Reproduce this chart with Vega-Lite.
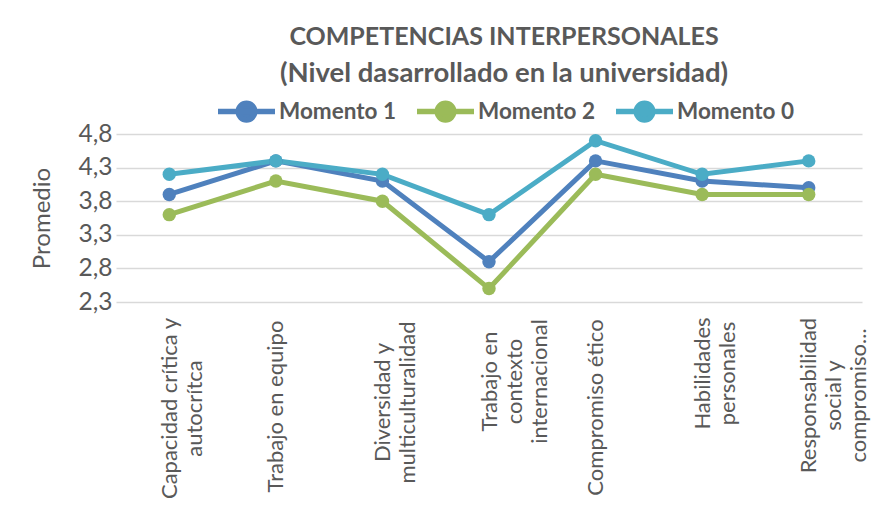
{
  "$schema": "https://vega.github.io/schema/vega-lite/v6.json",
  "width": 746,
  "height": 168,
  "autosize": "none",
  "padding": {"left": 116, "top": 134, "right": 23, "bottom": 206},
  "background": "white",
  "title": {
    "text": "COMPETENCIAS INTERPERSONALES",
    "subtitle": "(Nivel dasarrollado en la universidad)",
    "font": "Lato",
    "fontSize": 25,
    "fontWeight": "bold",
    "color": "#595959",
    "subtitleFont": "Lato",
    "subtitleFontSize": 27.5,
    "subtitleFontWeight": "bold",
    "subtitleColor": "#595959",
    "subtitlePadding": 10,
    "anchor": "middle",
    "dx": 15,
    "offset": -7
  },
  "config": {
    "view": {"stroke": null},
    "font": "Lato"
  },
  "data": {
    "values": [
      {"competencia": "Capacidad crítica y autocrítca", "momento": "Momento 1", "promedio": 3.9},
      {"competencia": "Trabajo en equipo", "momento": "Momento 1", "promedio": 4.4},
      {"competencia": "Diversidad y multiculturalidad", "momento": "Momento 1", "promedio": 4.1},
      {"competencia": "Trabajo en contexto internacional", "momento": "Momento 1", "promedio": 2.9},
      {"competencia": "Compromiso ético", "momento": "Momento 1", "promedio": 4.4},
      {"competencia": "Habilidades personales", "momento": "Momento 1", "promedio": 4.1},
      {"competencia": "Responsabilidad social y compromiso...", "momento": "Momento 1", "promedio": 4.0},
      {"competencia": "Capacidad crítica y autocrítca", "momento": "Momento 2", "promedio": 3.6},
      {"competencia": "Trabajo en equipo", "momento": "Momento 2", "promedio": 4.1},
      {"competencia": "Diversidad y multiculturalidad", "momento": "Momento 2", "promedio": 3.8},
      {"competencia": "Trabajo en contexto internacional", "momento": "Momento 2", "promedio": 2.5},
      {"competencia": "Compromiso ético", "momento": "Momento 2", "promedio": 4.2},
      {"competencia": "Habilidades personales", "momento": "Momento 2", "promedio": 3.9},
      {"competencia": "Responsabilidad social y compromiso...", "momento": "Momento 2", "promedio": 3.9},
      {"competencia": "Capacidad crítica y autocrítca", "momento": "Momento 0", "promedio": 4.2},
      {"competencia": "Trabajo en equipo", "momento": "Momento 0", "promedio": 4.4},
      {"competencia": "Diversidad y multiculturalidad", "momento": "Momento 0", "promedio": 4.2},
      {"competencia": "Trabajo en contexto internacional", "momento": "Momento 0", "promedio": 3.6},
      {"competencia": "Compromiso ético", "momento": "Momento 0", "promedio": 4.7},
      {"competencia": "Habilidades personales", "momento": "Momento 0", "promedio": 4.2},
      {"competencia": "Responsabilidad social y compromiso...", "momento": "Momento 0", "promedio": 4.4}
    ]
  },
  "encoding": {
    "x": {
      "field": "competencia",
      "type": "nominal",
      "sort": null,
      "axis": {
        "title": null,
        "domain": false,
        "ticks": false,
        "grid": false,
        "labelAngle": -90,
        "labelAlign": "center",
        "labelBaseline": "middle",
        "labelPadding": {
          "condition": [
            {"test": "datum.value == 'Trabajo en equipo'", "value": 104},
            {"test": "datum.value == 'Diversidad y multiculturalidad'", "value": 100},
            {"test": "datum.value == 'Trabajo en contexto internacional'", "value": 79},
            {"test": "datum.value == 'Compromiso ético'", "value": 105},
            {"test": "datum.value == 'Habilidades personales'", "value": 71},
            {"test": "datum.value == 'Responsabilidad social y compromiso...'", "value": 93}
          ],
          "value": 106
        },
        "labelFont": "Lato",
        "labelFontSize": 22,
        "labelColor": "#595959",
        "labelLineHeight": 25,
        "labelLimit": 0,
        "labelOverlap": false,
        "labelExpr": "datum.label == 'Capacidad crítica y autocrítca' ? ['Capacidad crítica y','autocrítca'] : datum.label == 'Diversidad y multiculturalidad' ? ['Diversidad y','multiculturalidad'] : datum.label == 'Trabajo en contexto internacional' ? ['Trabajo en','contexto','internacional'] : datum.label == 'Habilidades personales' ? ['Habilidades','personales'] : datum.label == 'Responsabilidad social y compromiso...' ? ['Responsabilidad','social y','compromiso...'] : datum.label"
      }
    },
    "y": {
      "field": "promedio",
      "type": "quantitative",
      "scale": {"domain": [2.3, 4.8], "nice": false, "zero": false},
      "axis": {
        "values": [2.3, 2.8, 3.3, 3.8, 4.3, 4.8],
        "labelExpr": "replace(format(datum.value, '.1f'), '.', ',')",
        "domain": false,
        "ticks": false,
        "grid": true,
        "gridColor": "#D9D9D9",
        "gridWidth": 1.5,
        "labelFont": "Lato",
        "labelFontSize": 24.5,
        "labelColor": "#595959",
        "labelPadding": 4,
        "title": "Promedio",
        "titleFont": "Lato",
        "titleFontSize": 24,
        "titleFontWeight": "normal",
        "titleColor": "#595959",
        "titlePadding": 24
      }
    },
    "color": {
      "field": "momento",
      "type": "nominal",
      "scale": {
        "domain": ["Momento 1", "Momento 2", "Momento 0"],
        "range": ["#4F81BD", "#9BBB59", "#4BACC6"]
      },
      "legend": {
        "title": null,
        "orient": "none",
        "direction": "horizontal",
        "legendX": 99,
        "legendY": -54,
        "symbolType": "M-1,0L1,0M0.29,0A0.29,0.29,0,1,1,-0.29,0A0.29,0.29,0,1,1,0.29,0Z",
        "symbolSize": 3249,
        "symbolStrokeWidth": 5.5,
        "labelFont": "Lato",
        "labelFontSize": 22.5,
        "labelFontWeight": "bold",
        "labelColor": "#595959",
        "labelOffset": 1,
        "columnPadding": 10,
        "encode": {
          "symbols": {
            "update": {
              "fill": {"scale": "color", "field": "value"},
              "stroke": {"scale": "color", "field": "value"},
              "opacity": {"value": 1}
            }
          }
        }
      }
    }
  },
  "layer": [
    {"mark": {"type": "line", "strokeWidth": 5}},
    {"mark": {"type": "circle", "size": 180, "opacity": 1}}
  ]
}
